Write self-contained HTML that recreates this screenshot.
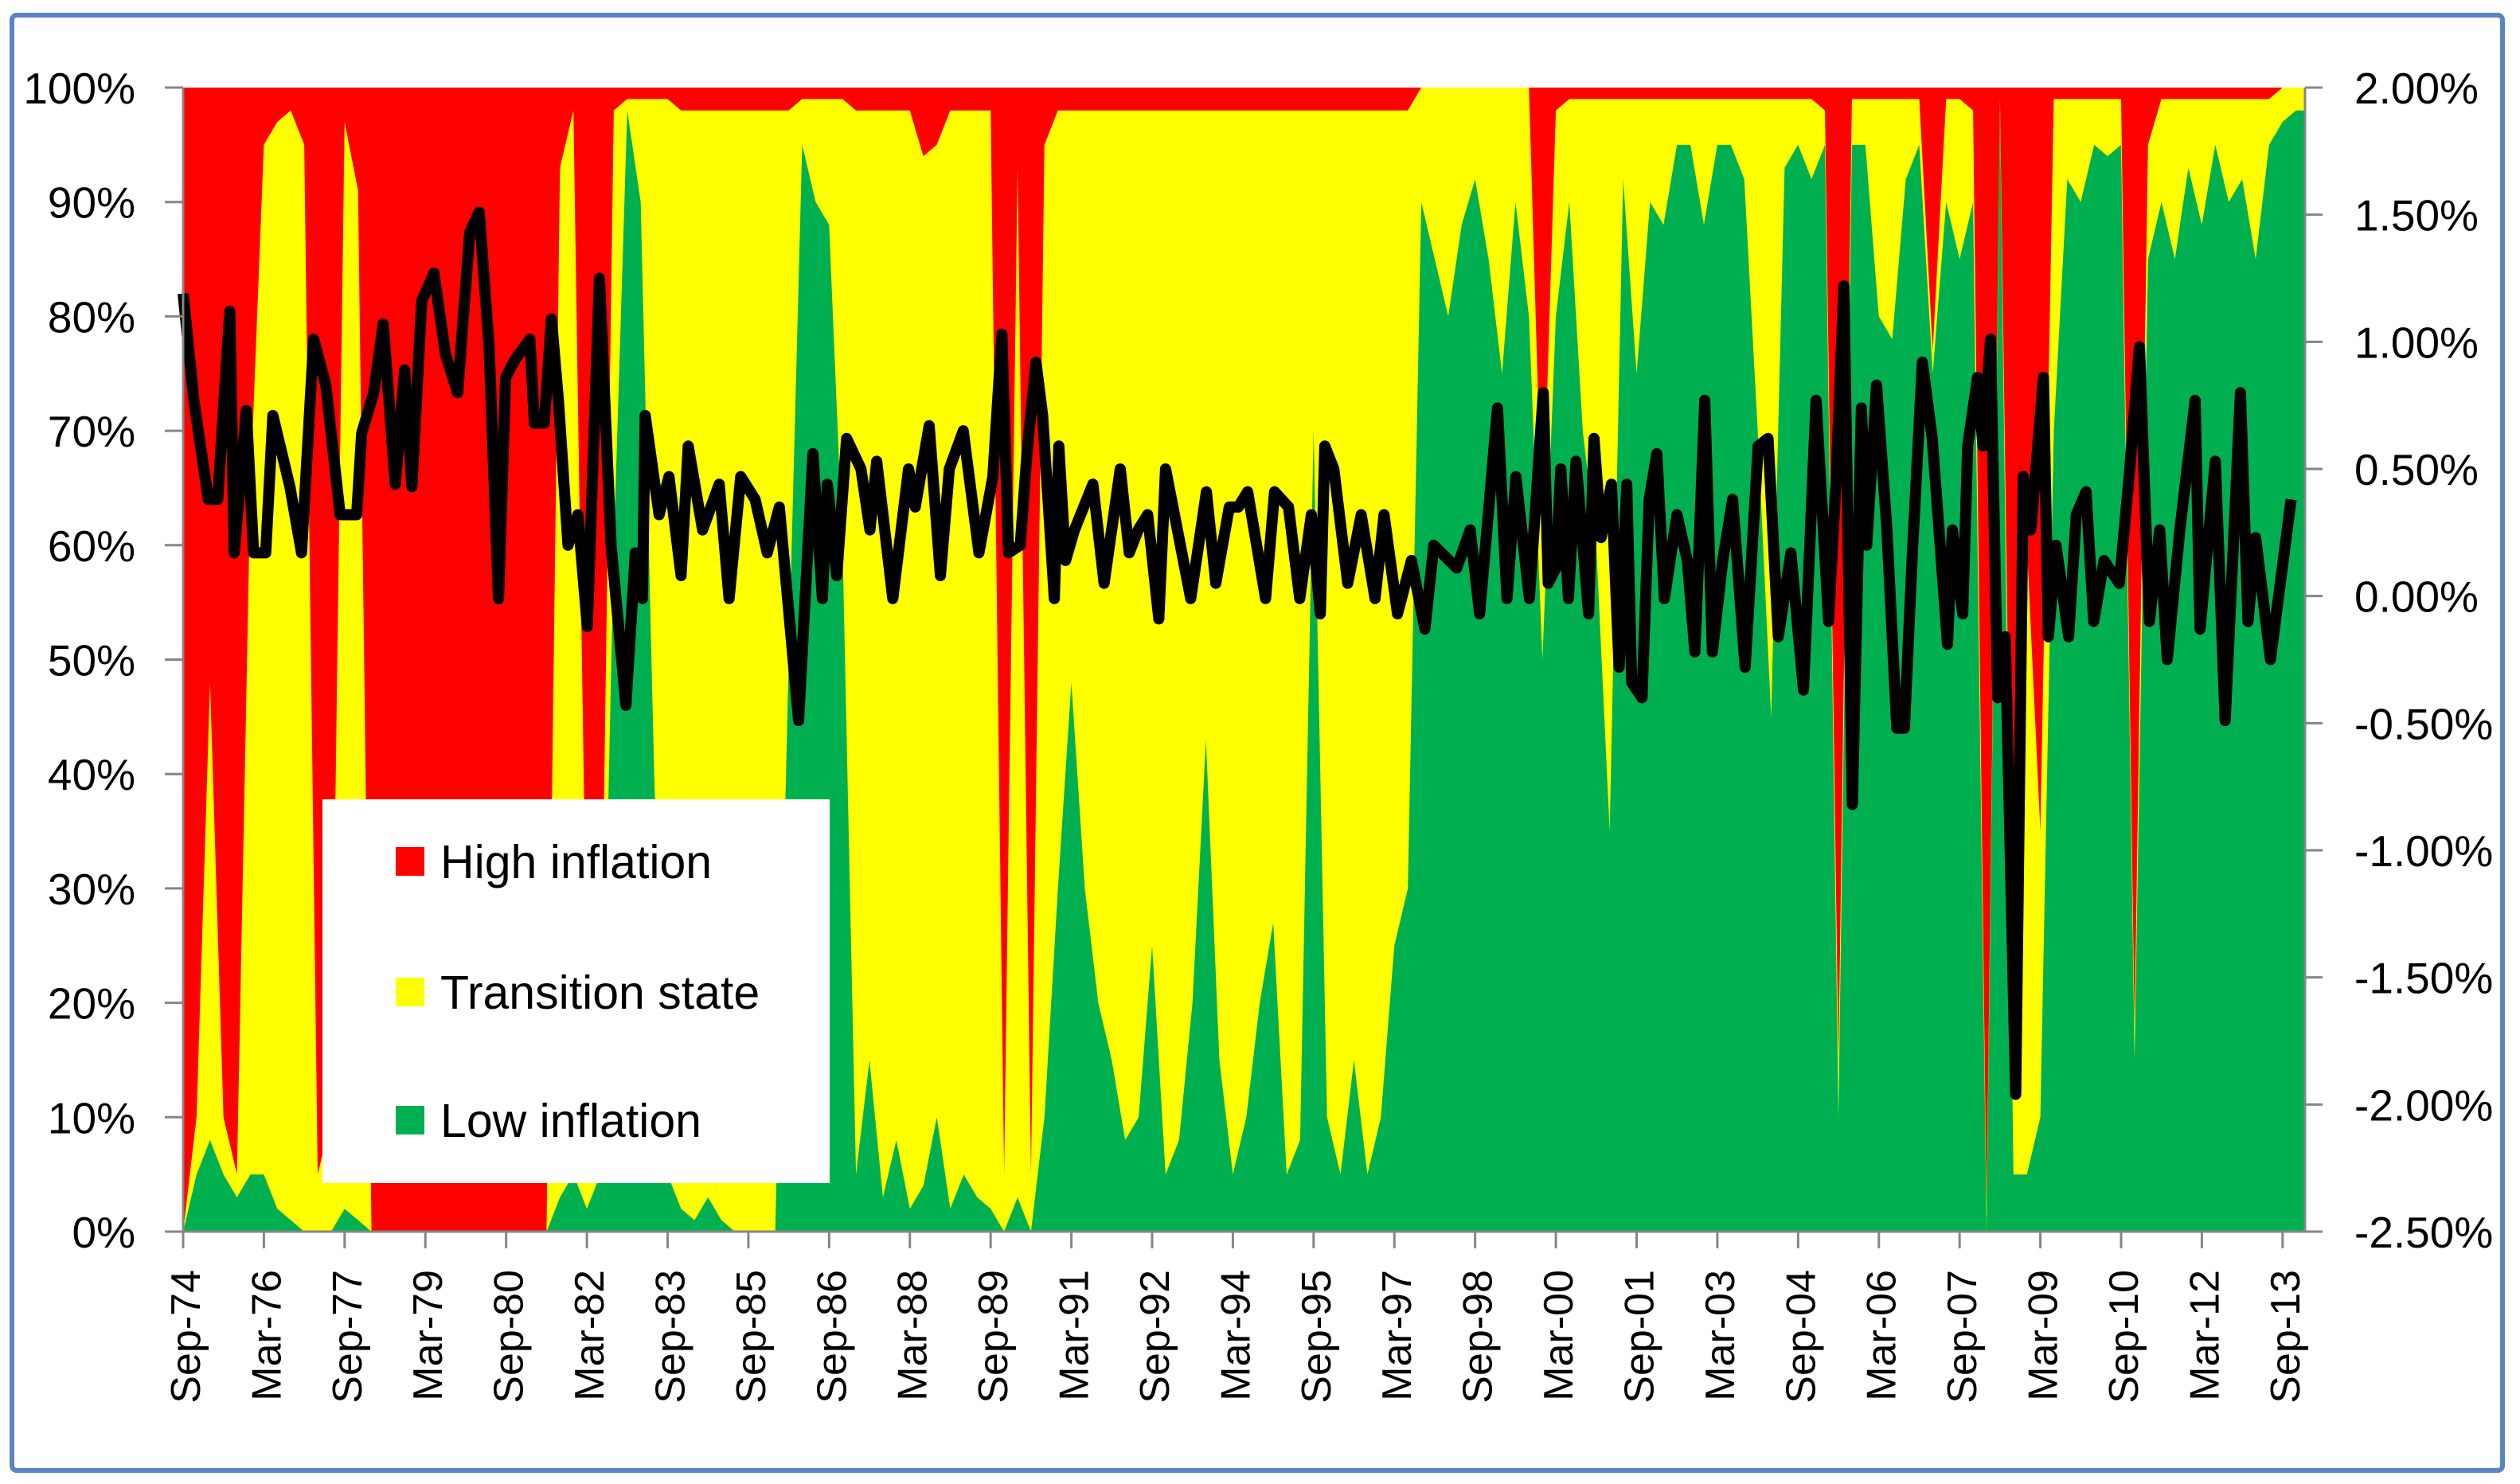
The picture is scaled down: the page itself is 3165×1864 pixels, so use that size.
<!DOCTYPE html>
<html><head><meta charset="utf-8"><style>
html,body{margin:0;padding:0;background:#fff;}
svg{display:block;font-family:"Liberation Sans","DejaVu Sans",sans-serif;}
</style></head><body>
<svg id="chart" width="3165" height="1864" viewBox="0 0 3165 1864" xmlns="http://www.w3.org/2000/svg">
<rect x="15" y="19" width="3128" height="1828" rx="6" fill="#fff" stroke="#5b84c0" stroke-width="6"/>
<g id="plot"></g>
<g id="axes"></g>
<g>
<rect x="405" y="1004" width="637" height="482" fill="#fff"/>
<g><rect x="497" y="1064" width="36" height="36" fill="#ff0000"/><text x="553" y="1103" font-size="59" fill="#000">High inflation</text></g>
<g><rect x="497" y="1228" width="36" height="36" fill="#ffff00"/><text x="553" y="1267" font-size="59" fill="#000">Transition state</text></g>
<g><rect x="497" y="1389" width="36" height="36" fill="#00b050"/><text x="553" y="1428" font-size="59" fill="#000">Low inflation</text></g>
</g>
</svg>
<script>
const NS="http://www.w3.org/2000/svg";
// quarterly probabilities (index i => month i*3 from Sep-74)
const lowProb=[0,5,8,5,3,5,5,2,1,0,0,0,2,1,0,0,0,0,0,0,0,0,0,0,0,0,0,0,3,5,2,5,60,98,90,40,5,2,1,3,1,0,0,0,0,50,95,90,88,60,5,15,3,8,2,4,10,2,5,3,2,0,3,0,10,30,48,30,20,15,8,10,25,5,8,20,43,15,5,10,20,27,5,8,70,10,5,15,5,10,25,30,90,85,80,88,92,85,75,90,80,50,80,90,70,60,35,92,75,90,88,95,95,88,95,95,92,70,45,93,95,92,95,10,95,95,80,78,92,95,75,90,85,90,0,98,5,5,10,70,92,90,95,94,95,15,85,90,85,93,88,95,90,92,85,95,97,98];
const transProb=[0,5,40,5,2,60,90,95,97,95,5,10,95,90,0,0,0,0,0,0,0,0,0,0,0,0,0,0,90,93,20,10,38,1,9,59,94,96,97,95,97,98,98,98,98,48,4,9,11,39,93,83,95,90,96,90,85,96,93,95,96,5,90,5,85,68,50,68,78,83,90,88,73,93,90,78,55,83,93,88,78,71,93,90,28,88,93,83,93,88,73,68,10,15,20,12,8,15,25,10,20,10,18,9,29,39,64,7,24,9,11,4,4,11,4,4,7,29,54,6,4,7,3,5,4,4,19,21,7,4,2,9,14,8,2,1,10,55,25,29,7,9,4,5,4,3,10,9,14,6,11,4,9,7,14,4,3,2];
// inflation line: month index from Sep-74, value in %
const lineMonths=[0,2.4,5.6,7.7,10.4,11.4,14.1,15.7,18.4,20,23.8,26.4,29.1,31.8,35,38.7,39.8,42.5,44.6,47.3,49.4,51,53.2,55.9,58.5,61.2,63.9,66,68.2,70.3,71.9,74,77.3,78.3,80.5,82.1,83.7,85.8,88,90.1,92.8,95.4,98.7,100.8,102.4,103,106.1,108.3,111,112.6,115.8,119.5,121.7,124.3,127.5,130.2,132.9,137.2,140.4,142.5,143.6,145.7,147.9,151.1,153.1,154.6,158.2,161.7,163.2,166.3,168.8,170.8,173.9,177.4,180.5,182.5,184,186.6,188.1,190.1,191.6,194.2,195.2,196.7,198.7,202.8,205.3,208.9,210.9,212.9,215,217.5,219,224.6,228.1,230.2,233.2,235.2,237.3,239.3,241.3,243.3,246.4,248.9,251.5,253.5,254.5,256.5,259.6,262.6,265.7,267.7,270.7,273.8,276.8,278.8,283.9,286.9,289,293,295.1,297.1,300.1,303.2,304.3,306,307.1,308.8,310.5,313.3,314.5,316.1,318.4,320.1,321.8,322.9,325.2,326.8,328.5,330.2,333,335.3,337,339.2,340.9,343.2,345.4,348.2,351.1,353.3,355.6,358.4,361.2,364,366.8,368.5,370.2,372.1,374.1,375.3,377.5,379.8,382,383.7,385.4,387.7,389.9,393.3,394.4,396.7,397.8,400,401.2,402.9,404.5,406.2,408.5,410.2,411.9,414.7,415.8,417.5,420.3,422,424.2,425.9,428.2,431.6,433.8,436.1,438.3,440.6,442.3,445.1,448.5,449.6,453,455.2,458.6,460.3,462,465.3,469.9];
const lineValues=[1.19,0.77,0.38,0.38,1.12,0.17,0.73,0.17,0.17,0.71,0.43,0.17,1.01,0.83,0.32,0.32,0.64,0.80,1.07,0.44,0.89,0.43,1.16,1.27,0.95,0.80,1.43,1.51,0.98,-0.01,0.86,0.93,1.01,0.68,0.68,1.09,0.76,0.20,0.32,-0.12,1.25,0.20,-0.43,0.17,-0.01,0.71,0.32,0.47,0.08,0.59,0.26,0.44,-0.01,0.47,0.38,0.17,0.35,-0.49,0.56,-0.01,0.44,0.08,0.62,0.50,0.26,0.53,-0.01,0.50,0.35,0.67,0.08,0.50,0.65,0.17,0.47,1.03,0.17,0.20,0.56,0.92,0.71,-0.01,0.59,0.14,0.26,0.44,0.05,0.50,0.17,0.26,0.32,-0.09,0.50,-0.01,0.41,0.05,0.35,0.35,0.41,0.20,-0.01,0.41,0.35,-0.01,0.32,-0.07,0.59,0.50,0.05,0.32,-0.01,0.32,-0.07,0.14,-0.13,0.20,0.11,0.26,-0.07,0.74,-0.01,0.47,-0.01,0.80,0.05,0.11,0.50,-0.01,0.53,-0.07,0.62,0.23,0.44,-0.28,0.44,-0.34,-0.40,0.38,0.56,-0.01,0.32,0.14,-0.22,0.77,-0.22,0.14,0.38,-0.28,0.59,0.62,-0.16,0.17,-0.37,0.77,-0.10,0.47,1.22,-0.82,0.74,0.20,0.83,0.26,-0.52,-0.52,0.14,0.92,0.62,-0.19,0.26,-0.07,0.59,0.86,0.59,1.01,-0.40,-0.16,-1.96,0.47,0.26,0.86,-0.16,0.20,-0.16,0.32,0.41,-0.10,0.14,0.05,0.47,0.98,-0.10,0.26,-0.25,0.26,0.77,-0.13,0.53,-0.49,0.80,-0.10,0.23,-0.25,0.38];
const leftTicks=["0%","10%","20%","30%","40%","50%","60%","70%","80%","90%","100%"];
const rightTicks=["-2.50%","-2.00%","-1.50%","-1.00%","-0.50%","0.00%","0.50%","1.00%","1.50%","2.00%"];
const xLabels=["Sep-74","Mar-76","Sep-77","Mar-79","Sep-80","Mar-82","Sep-83","Sep-85","Sep-86","Mar-88","Sep-89","Mar-91","Sep-92","Mar-94","Sep-95","Mar-97","Sep-98","Mar-00","Sep-01","Mar-03","Sep-04","Mar-06","Sep-07","Mar-09","Sep-10","Mar-12","Sep-13"];
const TOTAL_MONTHS=473, TICK_EVERY=18, STEP_MONTHS=3;
const L=230,R=2895,T=110,B=1547;
const xS=m=>L+m/TOTAL_MONTHS*(R-L);
const yL=p=>B-p/100*(B-T);
const yR=v=>B-(v+2.5)/4.5*(B-T);
const plot=document.getElementById('plot'), axes=document.getElementById('axes');
function mk(tag,attrs,parent){const e=document.createElementNS(NS,tag);for(const k in attrs)e.setAttribute(k,attrs[k]);parent.appendChild(e);return e;}
const red=mk('rect',{x:L,y:T,width:R-L,height:B-T,fill:'#ff0000'},plot);


function areaPath(vals){let d='M'+L+','+B;vals.forEach((v,i)=>{d+=' L'+xS(i*STEP_MONTHS).toFixed(1)+','+yL(v).toFixed(1);});d+=' L'+R+','+yL(vals[vals.length-1]).toFixed(1)+' L'+R+','+B+' Z';return d;}
const cum=lowProb.map((g,i)=>Math.min(100,g+transProb[i]));
const ya=mk('path',{d:areaPath(cum),fill:'#ffff00'},plot);


const ga=mk('path',{d:areaPath(lowProb),fill:'#00b050'},plot);


let ld='';lineMonths.forEach((m,i)=>{ld+=(i?' L':'M')+xS(m).toFixed(1)+','+yR(lineValues[i]).toFixed(1);});
const ln=mk('path',{d:ld,fill:'none',stroke:'#000','stroke-width':14,'stroke-linejoin':'round'},plot);


// axes
mk('line',{x1:L,y1:T,x2:L,y2:B,stroke:'#868686','stroke-width':3},axes);
mk('line',{x1:R,y1:T,x2:R,y2:B,stroke:'#868686','stroke-width':3},axes);
mk('line',{x1:L,y1:B,x2:R,y2:B,stroke:'#868686','stroke-width':3},axes);
leftTicks.forEach((t,i)=>{const y=yL(i*10);
mk('line',{x1:L-23,y1:y,x2:L,y2:y,stroke:'#868686','stroke-width':3},axes);
const tx=mk('text',{x:170,y:y+20,'font-size':55,'text-anchor':'end',fill:'#000'},axes);tx.textContent=t;

});
rightTicks.forEach((t,i)=>{const y=yR(-2.5+i*0.5);
mk('line',{x1:R,y1:y,x2:R+22,y2:y,stroke:'#868686','stroke-width':3},axes);
const tx=mk('text',{x:2957,y:y+20,'font-size':55,'text-anchor':'start',fill:'#000'},axes);tx.textContent=t;

});
xLabels.forEach((t,i)=>{const x=xS(i*TICK_EVERY);
mk('line',{x1:x,y1:B,x2:x,y2:B+21,stroke:'#868686','stroke-width':3},axes);
const tx=mk('text',{x:0,y:0,'font-size':52,'text-anchor':'end','dominant-baseline':'central',fill:'#000',transform:'translate('+(x+4)+',1595) rotate(-90)'},axes);tx.textContent=t;

});
</script>
</body></html>
